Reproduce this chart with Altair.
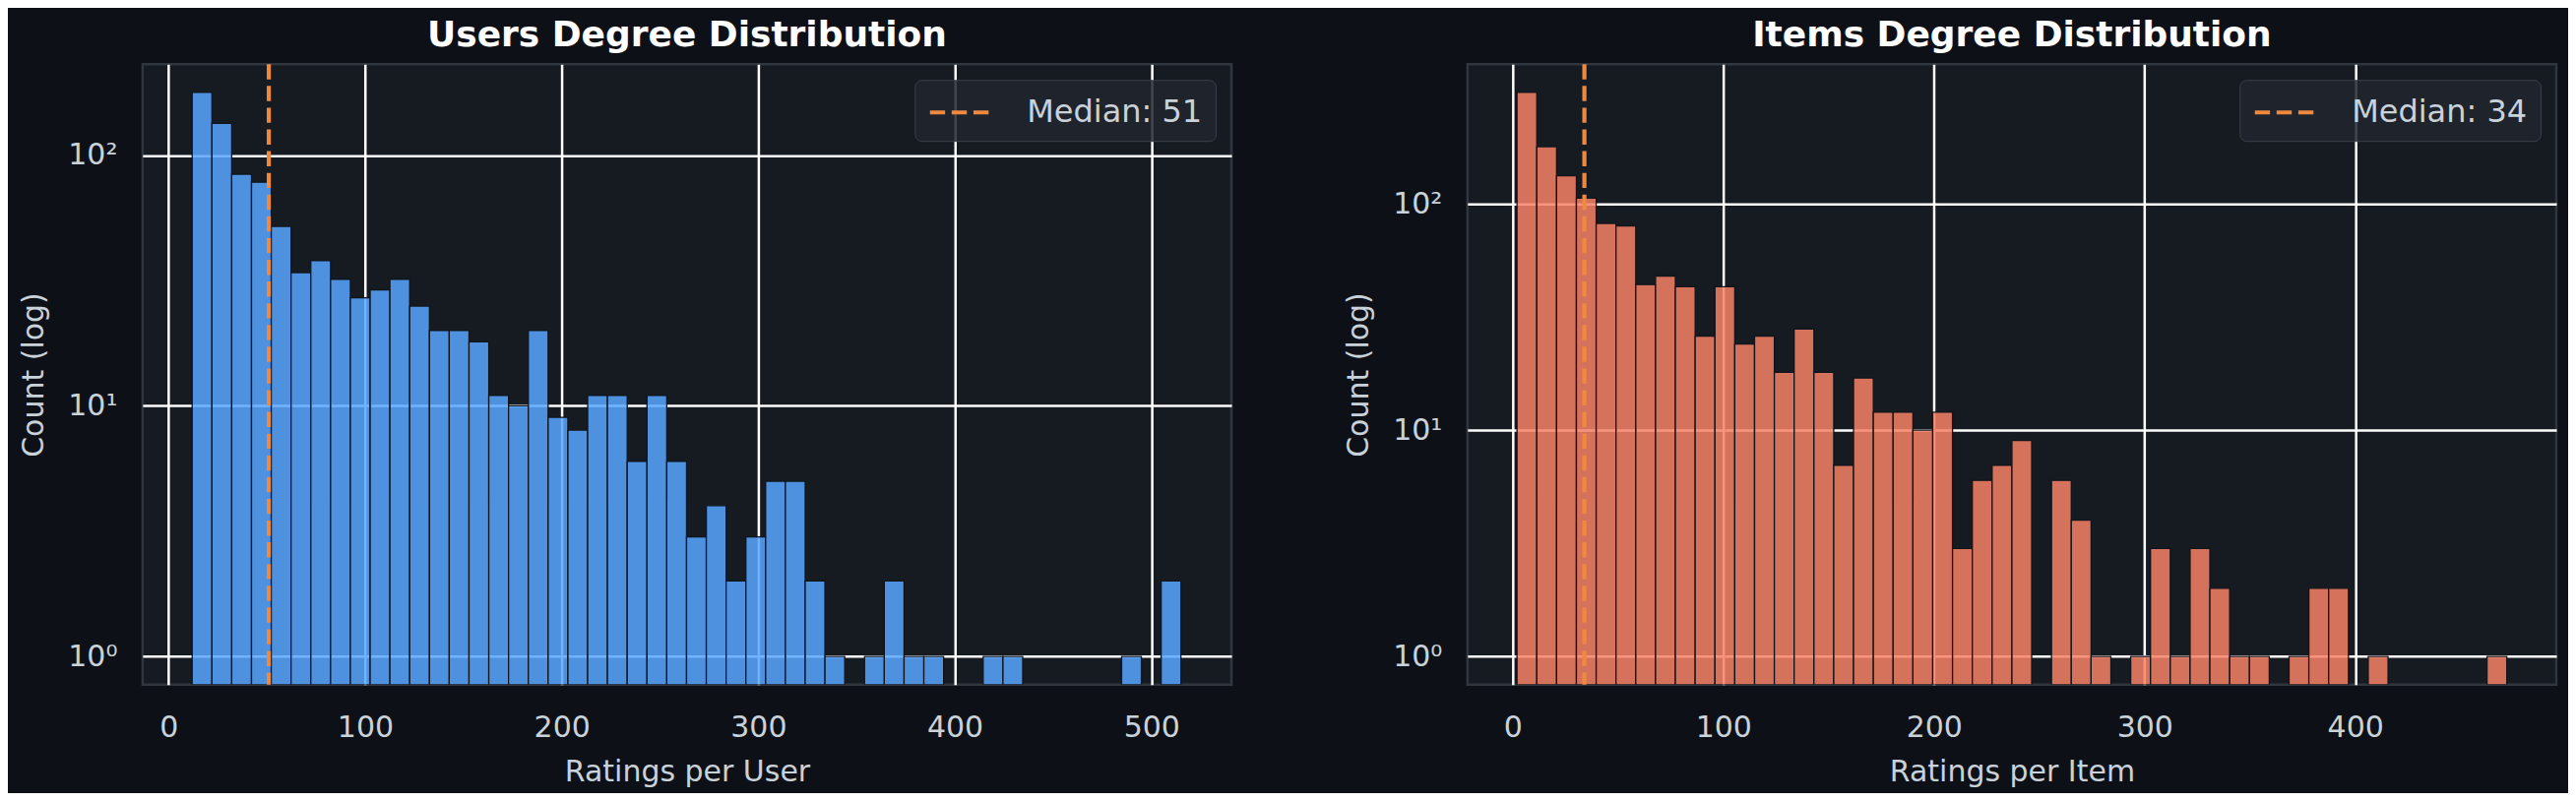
import altair as alt
import pandas as pd

# ---- data ----
users_counts = [178, 134, 84, 78, 52, 34, 38, 32, 27, 29,
                32, 25, 20, 20, 18, 11, 10, 20, 9, 8,
                11, 11, 6, 11, 6, 3, 4, 2, 3, 5,
                5, 2, 1, 0, 1, 2, 1, 1, 0, 0,
                1, 1, 0, 0, 0, 0, 0, 1, 0, 2]
users_range = [12, 515]
users_median = 51

items_counts = [311, 179, 133, 106, 82, 80, 44, 48, 43, 26,
                43, 24, 26, 18, 28, 18, 7, 17, 12, 12,
                10, 12, 3, 6, 7, 9, 0, 6, 4, 1,
                0, 1, 3, 1, 3, 2, 1, 1, 0, 1,
                2, 2, 0, 1, 0, 0, 0, 0, 0, 1]
items_range = [2, 472]
items_median = 34

users_xticks = [0, 100, 200, 300, 400, 500]
items_xticks = [0, 100, 200, 300, 400]
y_ticks = [1, 10, 100]

FONT = "DejaVu Sans"
W, H = 1107, 631


def hist_frame(counts, rng):
    n = len(counts)
    step = (rng[1] - rng[0]) / n
    rows = []
    for i, c in enumerate(counts):
        if c > 0:
            rows.append({"start": rng[0] + i * step,
                         "end": rng[0] + (i + 1) * step,
                         "count": c})
    return pd.DataFrame(rows)


def panel(counts, rng, median, color, title, xtitle, xticks, xdomain, ydomain):
    df = hist_frame(counts, rng)
    label = f"Median: {median}"
    bars = alt.Chart(df).mark_bar(
        color=color, fillOpacity=0.85, stroke="#10141b", strokeWidth=1.3, clip=True
    ).encode(
        x=alt.X("start:Q",
                scale=alt.Scale(domain=xdomain, nice=False, zero=False),
                axis=alt.Axis(values=xticks, title=xtitle, labelPadding=29,
                              titlePadding=15, format="d")),
        x2="end:Q",
        y=alt.Y("count:Q",
                scale=alt.Scale(type="log", domain=ydomain, nice=False),
                axis=alt.Axis(values=y_ticks, title="Count (log)",
                              labelExpr="datum.value == 1 ? '10⁰' : (datum.value == 10 ? '10¹' : '10²')",
                              labelPadding=26, minExtent=79, maxExtent=79,
                              titlePadding=16)),
        y2=alt.datum(ydomain[0]),
    )
    med = alt.Chart(pd.DataFrame({"m": [median], "label": [label]})).mark_rule(
        strokeDash=[15.4, 6.7], strokeWidth=4.2
    ).encode(
        x="m:Q",
        color=alt.Color("label:N",
                        scale=alt.Scale(domain=[label], range=["#f0883e"]),
                        legend=alt.Legend(title=None, orient="top-right", offset=16,
                                          symbolType="M-1,0H2.77", symbolSize=1225,
                                          symbolDash=[15.4, 6.7], symbolStrokeWidth=4.2,
                                          labelOffset=61, labelFontSize=32,
                                          labelLimit=600,
                                          labelColor="#c9d1d9", labelFont=FONT,
                                          fillColor="rgba(33,38,46,0.85)",
                                          strokeColor="#3a4049", cornerRadius=7,
                                          padding=13)),
    )
    return alt.layer(bars, med).properties(
        width=W, height=H, title=title
    ).resolve_scale(color="independent")


left = panel(users_counts, users_range, users_median, "#58a6ff",
             "Users Degree Distribution", "Ratings per User", users_xticks,
             [-13.2, 540.7], [0.772, 230.6])
right = panel(items_counts, items_range, items_median, "#f78166",
              "Items Degree Distribution", "Ratings per Item", items_xticks,
              [-21.5, 495.5], [0.750, 414.3])

chart = alt.hconcat(left, right, spacing=111).resolve_scale(
    color="independent", x="independent", y="independent"
).resolve_legend(color="independent").configure(
    background="#0d1117",
    padding={"left": 10, "top": 8, "right": 10, "bottom": 4},
    font=FONT,
).configure_view(
    fill="#161b22", stroke="#30363d", strokeWidth=2.5
).configure_axis(
    grid=True, gridColor="#ffffff", gridWidth=2.5, gridOpacity=1,
    domain=False, ticks=False,
    labelColor="#c9d1d9", labelFontSize=30, labelFont=FONT,
    titleColor="#c9d1d9", titleFontSize=30, titleFont=FONT, titleFontWeight="normal",
).configure_title(
    fontSize=36, fontWeight="bold", color="#ffffff", anchor="middle",
    baseline="alphabetic", offset=8, font=FONT,
)

chart.save("out.html", embed_options={"renderer": "svg", "actions": False})
